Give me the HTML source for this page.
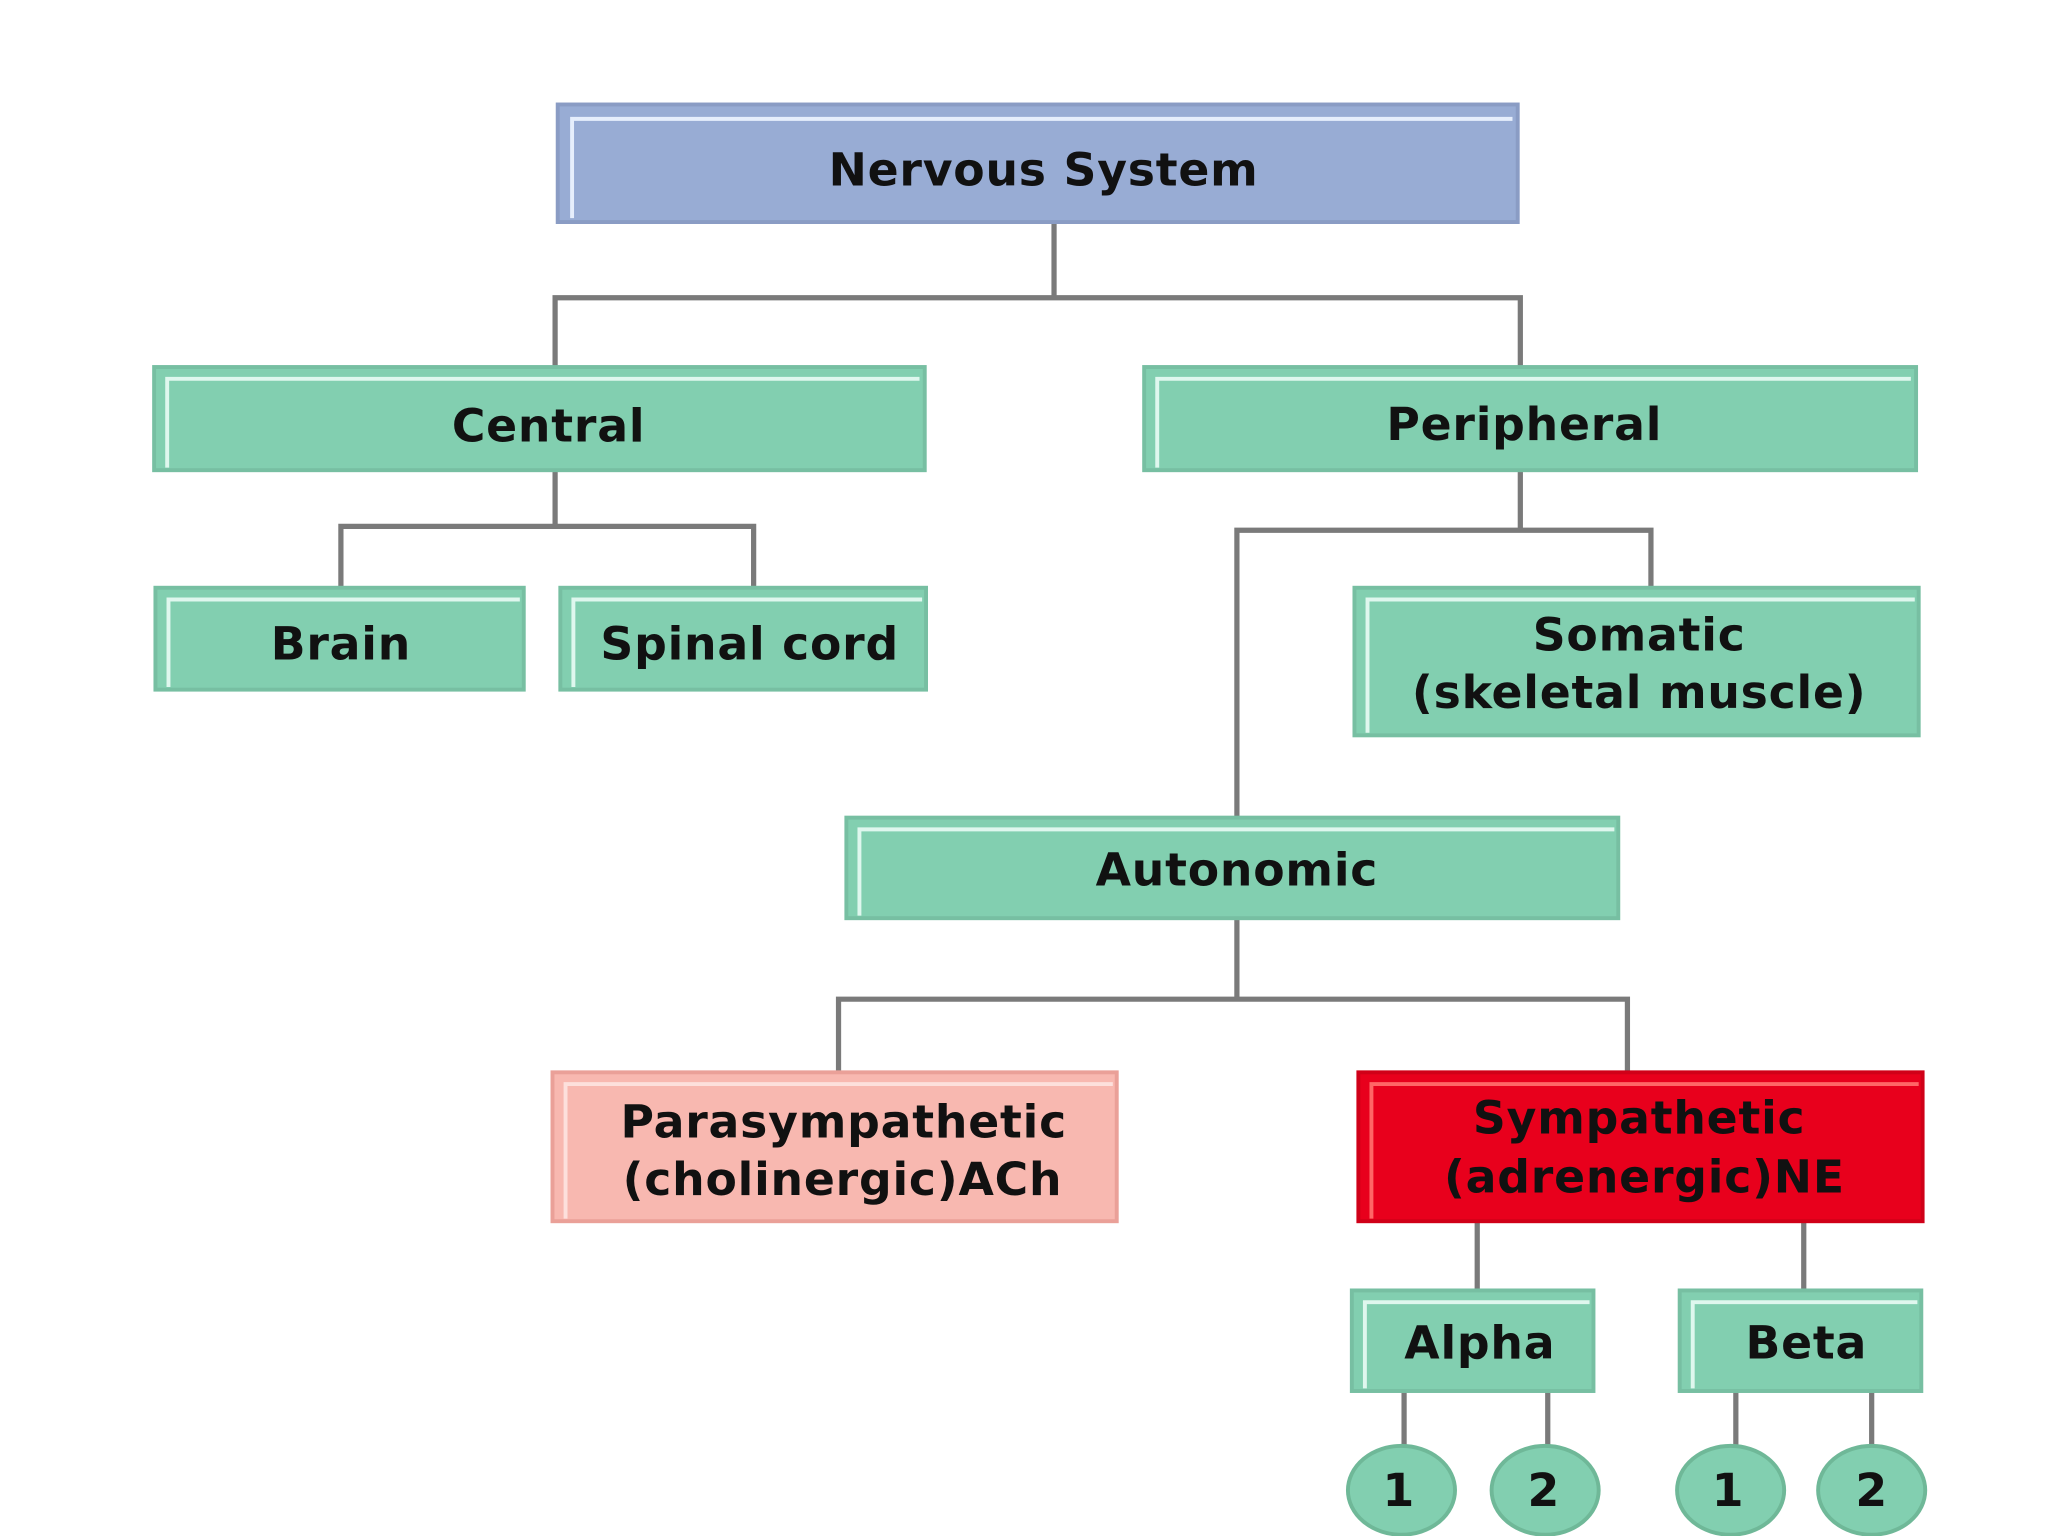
<!DOCTYPE html>
<html><head><style>
html,body{margin:0;padding:0;background:#fff;}
svg{display:block}
text{font-family:"DejaVu Sans","Liberation Sans",sans-serif;font-weight:bold;fill:#111;text-anchor:middle;letter-spacing:0.6px}
</style></head><body>
<svg width="2048" height="1536" viewBox="0 0 1568 1176" xmlns="http://www.w3.org/2000/svg">
<rect width="1568" height="1176" fill="#fff"/>
<g stroke="#7a7a7a" stroke-width="4" fill="none">
<path d="M807 170V228M425 281V228H1164V281"/>
<path d="M425 360V403M261 450V403H577V450"/>
<path d="M1164 360V406M947 626V406H1264V450"/>
<path d="M947 703V765M642 821V765H1246V821"/>
<path d="M1131 935V988M1381 935V988"/>
<path d="M1075 1065V1110M1185 1065V1110M1329 1065V1110M1433 1065V1110"/>
</g>
<g stroke-width="3">
<rect x="427" y="80" width="735" height="90" fill="#98acd4" stroke="#8a9cc4"/>
<path d="M438 167V91H1158" stroke="#e6eefc" fill="none"/>
<rect x="118" y="281" width="590" height="79" fill="#82cfb0" stroke="#77bfa2"/>
<rect x="876" y="281" width="591" height="79" fill="#82cfb0" stroke="#77bfa2"/>
<rect x="119" y="450" width="282" height="78" fill="#82cfb0" stroke="#77bfa2"/>
<rect x="429" y="450" width="280" height="78" fill="#82cfb0" stroke="#77bfa2"/>
<rect x="1037" y="450" width="432" height="113" fill="#82cfb0" stroke="#77bfa2"/>
<rect x="648" y="626" width="591" height="77" fill="#82cfb0" stroke="#77bfa2"/>
<rect x="423" y="821" width="432" height="114" fill="#f8b8b0" stroke="#eaa098"/>
<rect x="1040" y="821" width="432" height="114" fill="#e8001c" stroke="#d00018"/>
<rect x="1035" y="988" width="185" height="77" fill="#82cfb0" stroke="#77bfa2"/>
<rect x="1286" y="988" width="185" height="77" fill="#82cfb0" stroke="#77bfa2"/>
</g>
<g stroke="#dff7ee" stroke-width="3" fill="none">
<path d="M128 358V290H704M886 358V290H1463M129 526V459H398M439 526V459H706M1047 561V459H1466M658 701V635H1236M1045 1063V997H1217M1296 1063V997H1468"/>
<path d="M433 933V830H852" stroke="#fde0dc"/>
<path d="M1050 933V830H1469" stroke="#f66"/>
</g>
<g fill="#82cfb0" stroke="#6fb898" stroke-width="3">
<ellipse cx="1073" cy="1141" rx="41" ry="34"/>
<ellipse cx="1183" cy="1141" rx="41" ry="34"/>
<ellipse cx="1325" cy="1141" rx="41" ry="34"/>
<ellipse cx="1433" cy="1141" rx="41" ry="34"/>
</g>
<g font-size="35">
<text x="799" y="142">Nervous System</text>
<text x="420" y="338">Central</text>
<text x="1167" y="337">Peripheral</text>
<text x="261" y="505">Brain</text>
<text x="574" y="505">Spinal cord</text>
<text x="1255" y="498">Somatic</text>
<text x="1255" y="542">(skeletal muscle)</text>
<text x="947" y="678">Autonomic</text>
<text x="646" y="871">Parasympathetic</text>
<text x="645" y="915">(cholinergic)ACh</text>
<text x="1255" y="868" fill="#2a0008">Sympathetic</text>
<text x="1259" y="913" fill="#2a0008">(adrenergic)NE</text>
<text x="1133" y="1040">Alpha</text>
<text x="1383" y="1040">Beta</text>
<text x="1071" y="1153">1</text>
<text x="1182" y="1153">2</text>
<text x="1323" y="1153">1</text>
<text x="1433" y="1153">2</text>
</g>
</svg>
</body></html>
